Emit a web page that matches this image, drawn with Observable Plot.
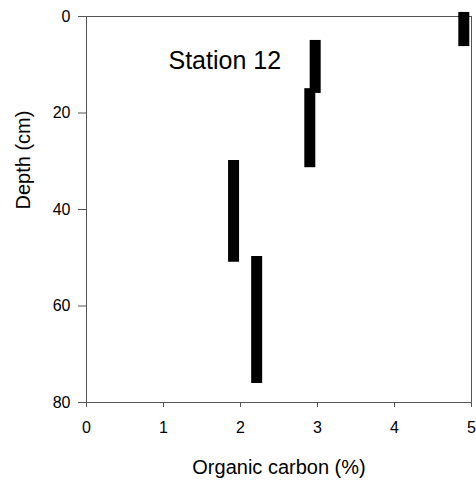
<!DOCTYPE html>
<html>
<head>
<meta charset="utf-8">
<script src="https://cdn.jsdelivr.net/npm/d3@7"></script>
<script src="https://cdn.jsdelivr.net/npm/@observablehq/plot@0.6"></script>
<style>
  html, body { margin: 0; padding: 0; background: #fff; }
  #chart { width: 476px; height: 484px; }
</style>
</head>
<body>
<div id="chart"></div>
<script>
// Organic carbon (%) per depth interval (cm), Station 12
const carbon   = [4.90, 2.97, 2.90, 1.91, 2.21];
const depthTop = [0.3, 6.1, 16.1, 31.0, 50.9];
const depthBot = [5.1, 14.8, 30.2, 49.8, 74.9];
const xTicks = [0, 1, 2, 3, 4, 5];
const yTicks = [0, 20, 40, 60, 80];
const title = "Station 12";
const xLabel = "Organic carbon (%)";
const yLabel = "Depth (cm)";

const segments = carbon.map((c, i) => ({c, top: depthTop[i], bottom: depthBot[i]}));

const font = "'Liberation Sans', Arial, Helvetica, sans-serif";
const axisColor = "#555";

const chart = Plot.plot({
  width: 476,
  height: 484,
  marginLeft: 86,
  marginRight: 5,
  marginTop: 16,
  marginBottom: 82,
  style: {fontFamily: font, background: "#fff", color: "#000"},
  x: {domain: [0, 5]},
  y: {domain: [0, 80], reverse: true},
  marks: [
    Plot.frame({stroke: axisColor}),
    Plot.axisX({ticks: xTicks, tickFormat: d => String(d), tickSize: 5, tickPadding: 14, fontSize: 16, label: null, stroke: axisColor, fill: "#000"}),
    Plot.axisY({ticks: yTicks, tickFormat: d => String(d), tickSize: 8, tickPadding: 8, fontSize: 16, label: null, stroke: axisColor, fill: "#000"}),
    Plot.ruleX(segments, {x: "c", y1: "top", y2: "bottom", stroke: "#000", strokeWidth: 11, strokeLinecap: "square"}),
    Plot.text([title], {frameAnchor: "top-left", dx: 82, dy: 52, lineAnchor: "bottom", textAnchor: "start", fontSize: 25, fill: "#000"}),
    Plot.text([xLabel], {frameAnchor: "bottom", dy: 71, lineAnchor: "bottom", fontSize: 20, fill: "#000"}),
    Plot.text([yLabel], {frameAnchor: "left", dx: -57, rotate: -90, lineAnchor: "bottom", fontSize: 20, fill: "#000"})
  ]
});
document.getElementById("chart").appendChild(chart);
</script>
</body>
</html>
